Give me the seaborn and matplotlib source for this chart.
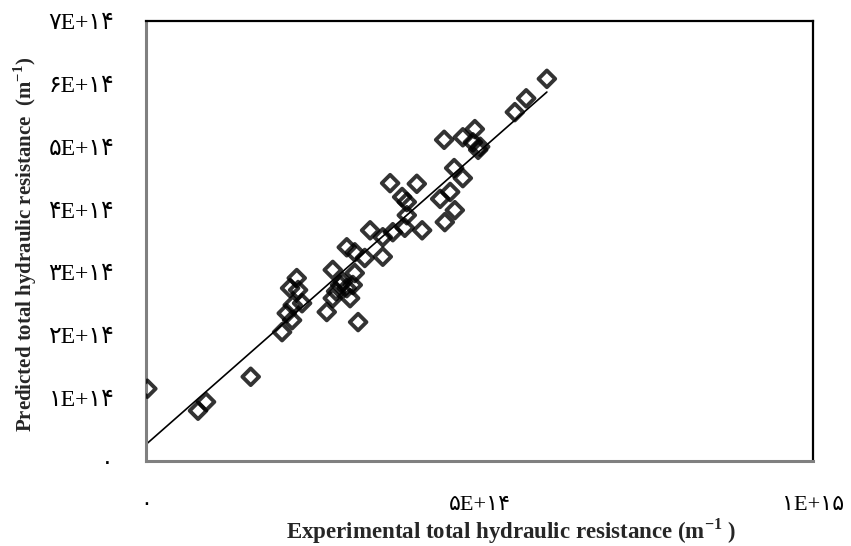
import numpy as np
import pandas as pd
import matplotlib
matplotlib.use("Agg")
import matplotlib.pyplot as plt
import seaborn as sns

# Experimental vs predicted total hydraulic resistance, in units of 1e14 m^-1
experimental = [0.02, 0.78, 0.90, 1.57, 2.04, 2.11, 2.19, 2.20, 2.34, 2.16, 2.26,
                2.28, 2.71, 2.80, 2.80, 2.91, 3.01, 3.10, 3.06, 3.18, 3.13, 3.01,
                3.13, 3.28, 3.36, 3.55, 3.70, 3.55, 3.66, 3.84, 3.91, 4.06, 3.91,
                3.88, 4.14, 4.41, 4.56, 4.62, 4.75, 4.63, 4.48, 4.47, 4.75, 4.93,
                4.90, 5.01, 4.98, 5.53, 5.70, 6.01, 2.95, 2.85]
predicted = [1.15, 0.80, 0.94, 1.34, 2.05, 2.35, 2.24, 2.48, 2.51, 2.75, 2.91,
             2.72, 2.37, 2.59, 3.04, 2.80, 2.75, 2.80, 2.59, 2.21, 2.99, 3.40,
             3.32, 3.23, 3.67, 3.56, 3.64, 3.25, 4.42, 4.20, 4.12, 4.41, 3.91,
             3.71, 3.67, 4.17, 4.28, 4.66, 4.50, 3.99, 3.80, 5.11, 5.15, 5.28,
             5.07, 5.00, 4.95, 5.55, 5.77, 6.08, 2.85, 2.70]

x_ticks = [0, 5, 10]
x_labels = ["۰", "۵E+۱۴", "۱E+۱۵"]
y_ticks = [0, 1, 2, 3, 4, 5, 6, 7]
y_labels = ["۰", "۱E+۱۴", "۲E+۱۴", "۳E+۱۴", "۴E+۱۴", "۵E+۱۴", "۶E+۱۴", "۷E+۱۴"]

df = pd.DataFrame({"experimental": experimental, "predicted": predicted})

sns.set_theme(style="white")
plt.rcParams["font.family"] = ["Liberation Serif", "DejaVu Sans"]
plt.rcParams["mathtext.fontset"] = "custom"
plt.rcParams["mathtext.rm"] = "Liberation Serif"
plt.rcParams["mathtext.bf"] = "Liberation Serif:bold"

fig = plt.figure(figsize=(8.51, 5.46), dpi=100)
ax = fig.add_axes([146 / 851, 85 / 546, 667 / 851, 440 / 546])

sns.regplot(data=df, x="experimental", y="predicted", ax=ax, ci=None,
            truncate=True, marker="D",
            scatter_kws=dict(s=72, facecolors="none", edgecolors="black",
                             linewidths=2.8, zorder=3),
            line_kws=dict(color="black", lw=1.2, zorder=2))

ax.set_xlim(0, 10)
ax.set_ylim(0, 7)
ax.set_xticks(x_ticks)
ax.set_xticklabels(x_labels, fontsize=16)
ax.set_yticks(y_ticks)
ax.set_yticklabels(y_labels, fontsize=17)
ax.tick_params(axis="x", length=0, pad=25, colors="black")
ax.tick_params(axis="y", length=0, pad=23, colors="black")

for side in ("top", "right"):
    ax.spines[side].set_color("black")
    ax.spines[side].set_linewidth(1.6)
for side in ("left", "bottom"):
    ax.spines[side].set_color("#808080")
    ax.spines[side].set_linewidth(2.2)

ax.set_xlabel(r"Experimental total hydraulic resistance (m$^{\mathbf{-1}}$ )",
              fontsize=16.5, fontweight="bold")
ax.set_ylabel(r"Predicted total hydraulic resistance  (m$^{\mathbf{-1}}$)",
              fontsize=15, fontweight="bold")
ax.xaxis.set_label_coords(0.547, -0.125)
ax.yaxis.set_label_coords(-0.16, 0.493)

fig.savefig("out.png", dpi=100)
